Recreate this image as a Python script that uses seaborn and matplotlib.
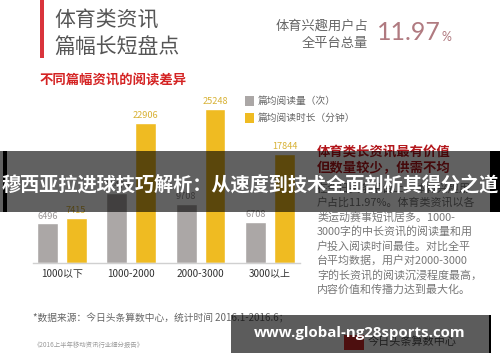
import matplotlib
matplotlib.use("Agg")
import matplotlib.pyplot as plt
from matplotlib.patches import Rectangle
import seaborn as sns
import pandas as pd

categories = ["1000以下", "1000-2000", "2000-3000", "3000以上"]
series_names = ["篇均阅读量（次）", "篇均阅读时长（分钟）"]
read_counts = [6496, 11470, 9708, 6708]
read_minutes = [7415, 22906, 25248, 17844]
series_colors = ["#aba7a6", "#efbb22"]
label_colors = ["#9a9696", "#d8b236"]

title_lines = ["体育类资讯", "篇幅长短盘点"]
subtitle = "不同篇幅资讯的阅读差异"
share_lines = ["体育兴趣用户占", "全平台总量"]
share_value = "11.97"
red_lines = ["体育类长资讯最有价值", "但数量较少，供需不均"]
para_lines = ["在今日头条平台上，体育兴趣用",
              "户占比11.97%。体育类资讯以各",
              "类运动赛事短讯居多。1000-",
              "3000字的中长资讯的阅读量和用",
              "户投入阅读时间最佳。对比全平",
              "台平均数据，用户对2000-3000",
              "字的长资讯的阅读沉浸程度最高，",
              "内容价值和传播力达到最大化。"]
source_text = "*数据来源：今日头条算数中心，统计时间 2016.1-2016.6；"
report_text = "《2016上半年移动资讯行业细分报告》"
banner_text = "穆西亚拉进球技巧解析：从速度到技术全面剖析其得分之道"
watermark_text = "www.global-ng28sports.com"

sns.set_theme(style="white")
plt.rcParams["font.family"] = ["Noto Sans CJK SC", "DejaVu Sans"]

W, H = 500, 362
fig = plt.figure(figsize=(W / 100, H / 100), dpi=100)
fig.patch.set_facecolor("white")

def fx(x):
    return x / W

def fy(y):
    return 1 - y / H

df = pd.DataFrame({
    "cat": categories * 2,
    "series": [series_names[0]] * 4 + [series_names[1]] * 4,
    "value": read_counts + read_minutes,
})

ax = fig.add_axes([fx(33), fy(263), fx(300) - fx(33), fy(92) - fy(263)])
sns.barplot(data=df, x="cat", y="value", hue="series", hue_order=series_names,
            palette=series_colors, width=0.83, gap=0.28, ax=ax, legend=False,
            saturation=1)
ax.set_xlim(-0.414, 3.43)
ax.set_ylim(0, 28000)
for s in ["top", "right", "left"]:
    ax.spines[s].set_visible(False)
ax.spines["bottom"].set_color("#d0d0d0")
ax.spines["bottom"].set_linewidth(1)
ax.set_yticks([])
ax.set_xlabel("")
ax.set_ylabel("")
ax.tick_params(axis="x", length=0, pad=4, labelsize=7.2, labelcolor="#333333")
for cont, col in zip(ax.containers, label_colors):
    ax.bar_label(cont, fmt="%d", padding=2, fontsize=6.6, color=col)

# legend
for i, (name, col) in enumerate(zip(series_names, series_colors)):
    yy = 101 + i * 17
    fig.add_artist(Rectangle((fx(245), fy(yy + 5)), fx(9), 10 / H,
                             transform=fig.transFigure, facecolor=col,
                             edgecolor="none"))
    fig.text(fx(258), fy(yy), name, fontsize=7, color="#666666", va="center")

# title block
fig.add_artist(Rectangle((fx(40), fy(58)), fx(4), 58 / H,
                         transform=fig.transFigure, facecolor="#d9343c",
                         edgecolor="none"))
fig.text(fx(54), fy(20), title_lines[0], fontsize=15, color="#555555", va="center")
fig.text(fx(54), fy(47), title_lines[1], fontsize=15, color="#555555", va="center")
fig.text(fx(40), fy(80), subtitle, fontsize=9.6, color="#d42323",
         fontweight="bold", va="center")

fig.text(fx(368), fy(26), share_lines[0], fontsize=9.5, color="#666666",
         ha="right", va="center")
fig.text(fx(368), fy(43), share_lines[1], fontsize=9.5, color="#666666",
         ha="right", va="center")
fig.text(fx(377), fy(33), share_value, fontsize=18, color="#b07a80",
         va="center", family=["Lato", "DejaVu Sans"], fontweight="normal")
fig.text(fx(442), fy(37), "%", fontsize=9, color="#b07a80", va="center",
         family=["Lato", "DejaVu Sans"], fontweight="normal")

# right text block
fig.text(fx(317), fy(152), red_lines[0], fontsize=9.6, color="#b3171c",
         fontweight="bold", va="center")
fig.text(fx(317), fy(168), red_lines[1], fontsize=9.6, color="#b3171c",
         fontweight="bold", va="center")
for i, line in enumerate(para_lines):
    fig.text(fx(317), fy(188.5 + i * 14.4), line, fontsize=7.9,
             color="#777777", va="center")

# footer
fig.text(fx(33), fy(318), source_text, fontsize=7, color="#666666", va="center")
fig.text(fx(34), fy(345), report_text, fontsize=4.6, color="#999999", va="center")
fig.add_artist(Rectangle((fx(344), fy(350)), fx(20), 15 / H,
                         transform=fig.transFigure, facecolor="#d52a2a",
                         edgecolor="none"))
fig.text(fx(368), fy(342), "今日头条算数中心", fontsize=8, color="#555555",
         va="center")

# overlay banner
fig.add_artist(Rectangle((0, fy(212)), 1, 61 / H, transform=fig.transFigure,
                         facecolor="black", alpha=0.62, edgecolor="none",
                         zorder=20))
fig.add_artist(Rectangle((fx(3), fy(212)), fx(4), 61 / H,
                         transform=fig.transFigure, facecolor="black",
                         edgecolor="none", zorder=21))
fig.add_artist(Rectangle((fx(490), fy(212)), fx(10), 61 / H,
                         transform=fig.transFigure, facecolor="black",
                         edgecolor="none", zorder=21))
fig.text(0.5, fy(186), banner_text, fontsize=13.8, color="white",
         fontweight="bold", ha="center", va="center", zorder=22)

# watermark box
fig.add_artist(Rectangle((fx(231), fy(353)), fx(259), 38 / H,
                         transform=fig.transFigure, facecolor="black",
                         alpha=0.64, edgecolor="none", zorder=20))
fig.add_artist(Rectangle((fx(489), fy(353)), fx(1.5), 38 / H,
                         transform=fig.transFigure, facecolor="black",
                         edgecolor="none", zorder=21))
fig.text(fx(360), fy(333), watermark_text, fontsize=10.8, color="white",
         fontweight="bold", ha="center", va="center", zorder=22,
         family=["Open Sans", "DejaVu Sans"])

fig.savefig("out.png", dpi=100, facecolor="white")
